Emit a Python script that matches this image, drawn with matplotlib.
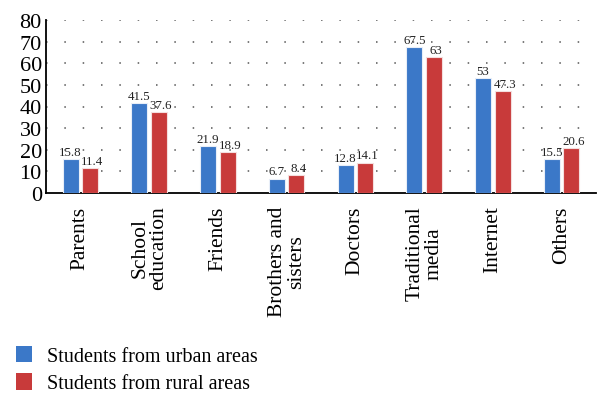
import matplotlib
matplotlib.use("Agg")
import matplotlib.pyplot as plt
from matplotlib.patches import Patch
import numpy as np

categories = ["Parents", "School\neducation", "Friends", "Brothers and\nsisters",
              "Doctors", "Traditional\nmedia", "Internet", "Others"]
urban = [15.8, 41.5, 21.9, 6.7, 12.8, 67.5, 53, 15.5]
rural = [11.4, 37.6, 18.9, 8.4, 14.1, 63, 47.3, 20.6]
urban_labels = ["15.8", "41.5", "21.9", "6.7", "12.8", "67.5", "53", "15.5"]
rural_labels = ["11.4", "37.6", "18.9", "8.4", "14.1", "63", "47.3", "20.6"]
yticks = [0, 10, 20, 30, 40, 50, 60, 70, 80]
series_names = ["Students from urban areas", "Students from rural areas"]

plt.rcParams['font.family'] = ['Liberation Serif', 'DejaVu Serif']

blue = "#3b78c8"
red = "#c83a3a"

fig = plt.figure(figsize=(6.1, 4.06), dpi=100)
ax = fig.add_axes([46/610, 1-194/406, 550/610, 173/406])

x = np.arange(len(categories))
w = 0.235
off = 0.142
ax.bar(x - off, urban, width=w, color=blue, edgecolor="#e8eef8", linewidth=0.8, zorder=3)
ax.bar(x + off, rural, width=w, color=red, edgecolor="#f4dede", linewidth=0.8, zorder=3)

for xi, v, t in zip(x - off, urban, urban_labels):
    ax.text(xi, v + 0.5, t, ha="center", va="bottom", fontsize=9.3, color="#222222")
for xi, v, t in zip(x + off, rural, rural_labels):
    ax.text(xi + 0.03, v + 0.5, t, ha="center", va="bottom", fontsize=9.3, color="#222222")

ax.set_xlim(-0.5, len(categories) - 0.5)
ax.set_ylim(0, 80)
ax.set_yticks(yticks)
ax.set_yticklabels([str(t) for t in yticks], fontsize=16)
ax.set_xticks(x)
ax.set_xticklabels(categories, rotation=90, fontsize=15.5, multialignment="center",
                   linespacing=1.0)
ax.tick_params(axis="both", length=0)
ax.tick_params(axis="x", pad=9)
ax.tick_params(axis="y", pad=3)

for t in yticks[1:]:
    ax.axhline(t, color="#555555", linestyle=(0, (1, 11)), linewidth=1.1, zorder=1)

for s in ["top", "right"]:
    ax.spines[s].set_visible(False)
ax.spines["left"].set_linewidth(1.3)
ax.spines["bottom"].set_linewidth(1.3)

handles = [Patch(facecolor=blue, edgecolor="none"), Patch(facecolor=red, edgecolor="none")]
fig.legend(handles, series_names, loc="lower left", bbox_to_anchor=(-0.004, -0.016),
           frameon=False, fontsize=14.5, handlelength=0.8, handleheight=0.9,
           handletextpad=0.75, labelspacing=0.35)

fig.savefig("out.png", dpi=100)
